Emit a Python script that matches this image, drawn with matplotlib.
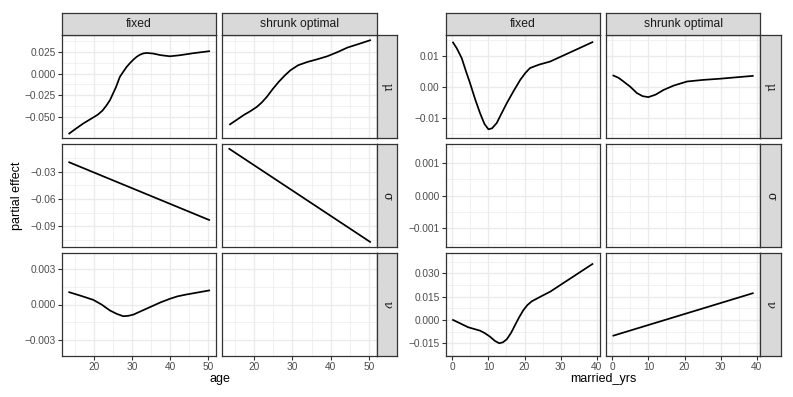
import numpy as np
import matplotlib
matplotlib.use("Agg")
import matplotlib.pyplot as plt

# ---- data ----
params = ["μ", "σ", "ν"]
methods = ["fixed", "shrunk optimal"]

# age panels
age_mu_fixed_x = [13.5, 15.3, 17.2, 19.5, 21.0, 22.2, 23.2, 24.2, 25.0, 25.8, 26.8, 27.7, 28.6, 29.5, 30.4,
                  31.2, 32.1, 33.0, 33.9, 35.6, 37.5, 40.0, 42.6, 46.1, 50.3]
age_mu_fixed_y = [-0.0685, -0.0628, -0.057, -0.051, -0.047, -0.0425, -0.037, -0.0305, -0.023, -0.0155, -0.0039,
                  0.002, 0.0076, 0.012, 0.016, 0.019, 0.0215, 0.023, 0.0235, 0.0228, 0.021, 0.0197, 0.0209,
                  0.0232, 0.0255]
age_mu_shrunk_x = [13.7, 15.5, 17.2, 19.0, 20.7, 22.0, 23.3, 24.8, 26.4, 28.0, 29.5, 31.5, 33.9, 36.5, 39.1,
                   41.8, 44.4, 47.5, 50.3]
age_mu_shrunk_y = [-0.058, -0.0527, -0.0476, -0.043, -0.0381, -0.033, -0.0267, -0.018, -0.0096, -0.0022,
                   0.0038, 0.0095, 0.0132, 0.0163, 0.0197, 0.0245, 0.0297, 0.034, 0.038]
age_sigma_fixed_x = [13.5, 50.3]
age_sigma_fixed_y = [-0.0197, -0.0831]
age_sigma_shrunk_x = [13.5, 50.3]
age_sigma_shrunk_y = [-0.0049, -0.1072]
age_nu_fixed_x = [13.5, 16.5, 19.8, 22.0, 24.2, 26.0, 27.7, 29.0, 30.4, 32.5, 34.7, 37.5, 40.0, 42.0, 44.4, 50.3]
age_nu_fixed_y = [0.00105, 0.00075, 0.0004, 0.0, -0.00051, -0.0008, -0.001, -0.00097, -0.00086, -0.00055,
                  -0.00023, 0.00018, 0.00049, 0.0007, 0.00086, 0.0012]

# married_yrs panels
my_mu_fixed_x = [0.2, 1.2, 2.6, 3.8, 4.9, 6.3, 7.7, 8.9, 10.0, 11.0, 12.3, 13.6, 15.1, 17.0, 18.8, 20.2,
                 21.5, 24.0, 27.1, 38.8]
my_mu_fixed_y = [0.0143, 0.0125, 0.0093, 0.005, 0.0013, -0.0038, -0.0084, -0.0118, -0.0135, -0.0132,
                 -0.0115, -0.0085, -0.0051, -0.0012, 0.0023, 0.0045, 0.0061, 0.0072, 0.0082, 0.0144]
my_mu_shrunk_x = [0.3, 1.7, 3.1, 5.0, 6.8, 8.4, 10.0, 12.0, 14.2, 17.0, 20.7, 25.0, 29.9, 38.9]
my_mu_shrunk_y = [0.0037, 0.003, 0.0018, 0.0001, -0.0019, -0.0029, -0.0032, -0.0024, -0.0009, 0.0005,
                  0.0018, 0.0023, 0.0027, 0.0036]
my_nu_fixed_x = [0.2, 2.0, 4.4, 7.7, 9.0, 10.4, 11.8, 13.0, 14.0, 15.1, 16.3, 17.4, 18.5, 19.7, 20.8, 22.0,
                 24.5, 27.1, 38.8]
my_nu_fixed_y = [0.0, -0.002, -0.0047, -0.0069, -0.0085, -0.0107, -0.0135, -0.015, -0.0144, -0.0124,
                 -0.0082, -0.0032, 0.0017, 0.0064, 0.0096, 0.012, 0.0151, 0.0182, 0.036]
my_nu_shrunk_x = [0.3, 38.9]
my_nu_shrunk_y = [-0.0101, 0.0172]

age_xticks = [20, 30, 40, 50]
my_xticks = [0, 10, 20, 30, 40]
age_yticks = [[-0.050, -0.025, 0.0, 0.025], [-0.09, -0.06, -0.03], [-0.003, 0.0, 0.003]]
age_ydec = [3, 2, 3]
my_yticks = [[-0.01, 0.0, 0.01], [-0.001, 0.0, 0.001], [-0.015, 0.0, 0.015, 0.030]]
my_ydec = [2, 3, 3]

groups = [
    {
        "xlabel": "age",
        "xlim": (11.6, 52.1),
        "xticks": age_xticks,
        "ylims": [(-0.0736, 0.044), (-0.1128, 0.0004), (-0.0044, 0.0044)],
        "yticks": age_yticks,
        "ydec": age_ydec,
        "lines": {
            (0, 0): (age_mu_fixed_x, age_mu_fixed_y),
            (0, 1): (age_mu_shrunk_x, age_mu_shrunk_y),
            (1, 0): (age_sigma_fixed_x, age_sigma_fixed_y),
            (1, 1): (age_sigma_shrunk_x, age_sigma_shrunk_y),
            (2, 0): (age_nu_fixed_x, age_nu_fixed_y),
        },
        "cols_px": [(62, 216), (222, 377)],
        "strip_px": (377, 397),
    },
    {
        "xlabel": "married_yrs",
        "xlim": (-1.75, 40.9),
        "xticks": my_xticks,
        "ylims": [(-0.0163, 0.0167), (-0.0016, 0.0016), (-0.0232, 0.0431)],
        "yticks": my_yticks,
        "ydec": my_ydec,
        "lines": {
            (0, 0): (my_mu_fixed_x, my_mu_fixed_y),
            (0, 1): (my_mu_shrunk_x, my_mu_shrunk_y),
            (2, 0): (my_nu_fixed_x, my_nu_fixed_y),
            (2, 1): (my_nu_shrunk_x, my_nu_shrunk_y),
        },
        "cols_px": [(446, 600), (606, 760)],
        "strip_px": (760, 781),
    },
]

W, H = 793, 397
rows_px = [(35, 138), (144, 247), (253, 356)]
top_strip_px = (13, 35)

BORDER = "#333333"
STRIP_BG = "#D9D9D9"
GRID = "#EBEBEB"
TICKTXT = "#4D4D4D"
FONT = "Liberation Sans"

plt.rcParams["font.family"] = [FONT, "DejaVu Sans"]


def rect(x0, x1, y0, y1):
    return [x0 / W, 1 - y1 / H, (x1 - x0) / W, (y1 - y0) / H]


def minors(ticks, lo, hi):
    step = ticks[1] - ticks[0]
    start = ticks[0] - step / 2
    while start - step > lo:
        start -= step
    vals = np.arange(start, hi, step)
    return [v for v in vals if lo < v < hi]


def style_strip(sax):
    sax.set_facecolor(STRIP_BG)
    sax.set_xticks([])
    sax.set_yticks([])
    for s in sax.spines.values():
        s.set_color(BORDER)
        s.set_linewidth(0.9)


fig = plt.figure(figsize=(W / 100, H / 100), dpi=100)

for g in groups:
    for r, (y0, y1) in enumerate(rows_px):
        for c, (x0, x1) in enumerate(g["cols_px"]):
            ax = fig.add_axes(rect(x0, x1, y0, y1))
            ax.set_xlim(*g["xlim"])
            ax.set_ylim(*g["ylims"][r])
            ax.set_xticks(g["xticks"])
            ax.set_yticks(g["yticks"][r])
            ax.set_xticks(minors(g["xticks"], *g["xlim"]), minor=True)
            ax.set_yticks(minors(g["yticks"][r], *g["ylims"][r]), minor=True)
            ax.grid(which="major", color=GRID, lw=1.0)
            ax.grid(which="minor", color=GRID, lw=0.5)
            ax.set_axisbelow(True)
            for s in ax.spines.values():
                s.set_color(BORDER)
                s.set_linewidth(0.9)
            ax.tick_params(which="minor", length=0)
            ax.tick_params(which="major", length=3, width=0.8, color=BORDER,
                           labelsize=7.3, labelcolor=TICKTXT, pad=1.5)
            if r == 2:
                ax.set_xticklabels([str(t) for t in g["xticks"]])
            else:
                ax.tick_params(axis="x", length=0, labelbottom=False)
            if c == 0:
                d = g["ydec"][r]
                ax.set_yticklabels([f"{t:.{d}f}".replace("-", "\u2212") for t in g["yticks"][r]])
            else:
                ax.tick_params(axis="y", length=0, labelleft=False)
            key = (r, c)
            if key in g["lines"]:
                xs, ys = g["lines"][key]
                ax.plot(xs, ys, color="black", lw=1.25, solid_joinstyle="round")

            # top strips
            if r == 0:
                sax = fig.add_axes(rect(x0, x1, top_strip_px[0], top_strip_px[1]))
                style_strip(sax)
                sax.text(0.5, 0.5, methods[c], ha="center", va="center",
                         fontsize=8.7, color="#1A1A1A", transform=sax.transAxes)

        # right strips
        sx0, sx1 = g["strip_px"]
        sax = fig.add_axes(rect(sx0, sx1, y0, y1))
        style_strip(sax)
        sax.text(0.5, 0.5, params[r], ha="center", va="center", rotation=270,
                 fontsize=8.5, color="#1A1A1A", family="DejaVu Serif",
                 transform=sax.transAxes)

    cx = (g["cols_px"][0][0] + g["cols_px"][1][1]) / 2
    fig.text(cx / W, 1 - 379 / H, g["xlabel"], ha="center", va="center",
             fontsize=9, color="black")

fig.text(17 / W, 1 - 195.5 / H, "partial effect", ha="center", va="center",
         rotation=90, fontsize=9, color="black")

fig.savefig("out.png", dpi=100)
